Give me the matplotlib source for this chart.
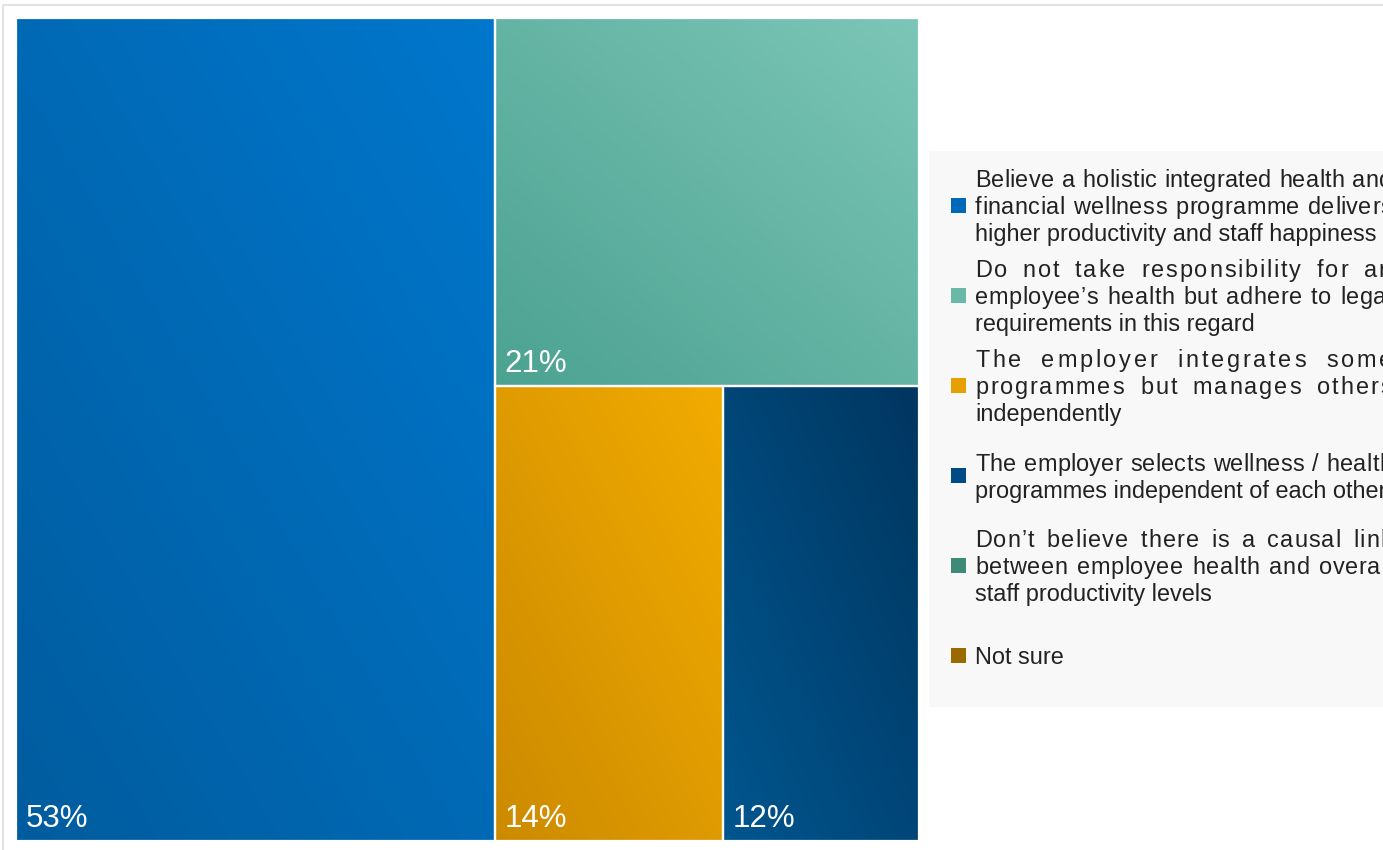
import matplotlib
matplotlib.use("Agg")
import matplotlib.pyplot as plt
import numpy as np
from matplotlib.patches import Rectangle
from matplotlib.colors import to_rgb
from matplotlib.font_manager import FontProperties, findfont, get_font

# ---------------- data ----------------
categories = [
    "Believe a holistic integrated health and\nfinancial wellness programme delivers\nhigher productivity and staff happiness",
    "Do not take responsibility for an\nemployee\u2019s health but adhere to legal\nrequirements in this regard",
    "The employer integrates some\nprogrammes but manages others\nindependently",
    "The employer selects wellness / health\nprogrammes independent of each other",
    "Don\u2019t believe there is a causal link\nbetween employee health and overall\nstaff productivity levels",
    "Not sure",
]
values = [53, 21, 14, 12, 0, 0]
labels = ["53%", "21%", "14%", "12%", "", ""]
legend_colors = ["#0068B8", "#6AB9A8", "#E6A000", "#004B85", "#3D8A78", "#9A6A00"]
grad_top_right = ["#0077CD", "#7CC6B7", "#F2AC00", "#003660", "#3D8A78", "#9A6A00"]
grad_bottom_left = ["#005C9E", "#4CA291", "#CC8A00", "#00568F", "#3D8A78", "#9A6A00"]

W_PX, H_PX = 1383, 850
fig = plt.figure(figsize=(W_PX / 100, H_PX / 100), dpi=100)
ax = fig.add_axes([0, 0, 1, 1])
ax.set_xlim(0, W_PX)
ax.set_ylim(H_PX, 0)
ax.axis("off")

FONT = "Liberation Sans"

# outer frame
ax.add_patch(Rectangle((3, 5), 1500, 900, facecolor="white", edgecolor="#E4E4E4", lw=1.6, zorder=0))

# ---------------- treemap layout ----------------
X0, Y0, X1, Y1 = 16, 18, 919, 841
total = sum(values)
rects = []
w0 = (X1 - X0) * values[0] / total
rects.append((X0, Y0, X0 + w0, Y1))
rest = total - values[0]
h1 = (Y1 - Y0) * values[1] / rest
rects.append((X0 + w0, Y0, X1, Y0 + h1))
rest2 = sum(values[2:])
cx = X0 + w0
for v in values[2:]:
    if v <= 0:
        rects.append(None)
        continue
    w = (X1 - X0 - w0) * v / rest2
    rects.append((cx, Y0 + h1, cx + w, Y1))
    cx += w


def gradient(c_tr, c_bl, n=200):
    a = np.array(to_rgb(c_tr))
    b = np.array(to_rgb(c_bl))
    u = np.linspace(0, 1, n)[None, :]          # left->right
    v = np.linspace(0, 1, n)[:, None]          # top->bottom
    t = (u + (1 - v)) / 2.0                    # 1 at top-right
    return b[None, None, :] * (1 - t[..., None]) + a[None, None, :] * t[..., None]


for i, r in enumerate(rects):
    if r is None or values[i] <= 0:
        continue
    x0, y0, x1, y1 = r
    img = gradient(grad_top_right[i], grad_bottom_left[i])
    ax.imshow(img, extent=[x0, x1, y1, y0], origin="upper", aspect="auto",
              interpolation="bilinear", zorder=1)
    ax.add_patch(Rectangle((x0, y0), x1 - x0, y1 - y0, facecolor="none",
                           edgecolor="white", lw=1.6, zorder=2))
    ax.text(x0 + 10, y1 - 14, labels[i], color="white", fontsize=22.5,
            family=FONT, ha="left", va="baseline", zorder=3)

# ---------------- legend ----------------
ax.add_patch(Rectangle((929, 151), 600, 556, facecolor="#F8F8F8", edgecolor="none", zorder=0.5))

fs = 16.9
fp = FontProperties(family=FONT, size=fs)
ft = get_font(findfont(fp))
ft.set_size(fs, 100)


def adv(c):
    g = ft.load_char(ord(c))
    return g.linearHoriAdvance / 65536.0


TX0, TX1 = 975, 1392
LINE = 27
SPACE_W = 4.0
TXT_COLOR = "#222222"
for i, lab in enumerate(categories):
    yc = 205 + 90 * i
    ax.add_patch(Rectangle((951, yc - 7.5), 15, 15, facecolor=legend_colors[i],
                           edgecolor="none", zorder=3))
    lines = lab.split("\n")
    n = len(lines)
    for j, line in enumerate(lines):
        yb = yc + 9 + (j - (n - 1) / 2) * LINE
        if j < n - 1 and " " in line:
            advs = [adv(c) for c in line]
            natural = sum(advs)
            weights = [SPACE_W if c == " " else 1.0 for c in line[:-1]]
            e = (TX1 - TX0 - natural) / sum(weights)
            x = TX0
            for k, c in enumerate(line):
                if c != " ":
                    ax.text(x, yb, c, fontproperties=fp, color=TXT_COLOR,
                            ha="left", va="baseline", zorder=3)
                if k < len(line) - 1:
                    x += advs[k] + weights[k] * e
        else:
            ax.text(TX0, yb, line, fontproperties=fp, color=TXT_COLOR,
                    ha="left", va="baseline", zorder=3)

fig.savefig("out.png", dpi=100, facecolor="white")
